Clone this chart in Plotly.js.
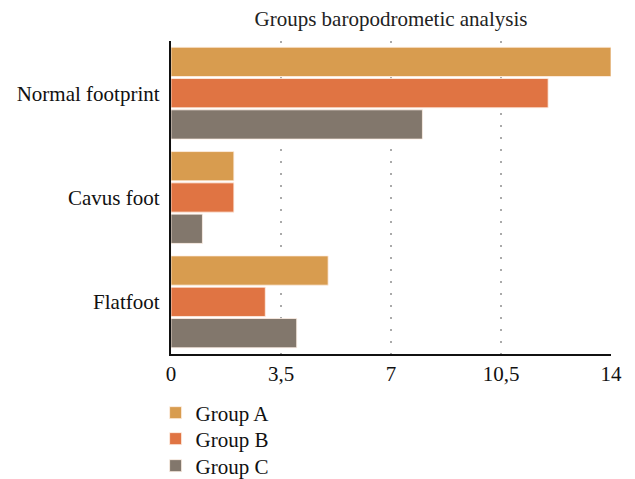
<!DOCTYPE html>
<html>
<head>
<meta charset="utf-8">
<script src="https://cdn.plot.ly/plotly-3.0.1.min.js"></script>
<style>html,body{margin:0;padding:0;background:#fff;}#chart{width:635px;height:479px;}</style>
</head>
<body>
<div id="chart"></div>
<script>
const categories = ["Normal footprint", "Cavus foot", "Flatfoot"];
const groupA = [14, 2, 5];
const groupB = [12, 2, 3];
const groupC = [8, 1, 4];
const seriesNames = ["Group A", "Group B", "Group C"];
const colors = ["#D89C4F", "#E07443", "#82776C"];
const tickVals = [0, 3.5, 7, 10.5, 14];
const tickText = ["0", "3,5", "7", "10,5", "14"];

const legendIds = ["legend", "legend2", "legend3"];
const legendCenters = [413, 439, 466];

const data = [groupA, groupB, groupC].map((vals, i) => ({
  type: "bar",
  orientation: "h",
  name: seriesNames[i],
  y: categories,
  x: vals,
  legend: legendIds[i],
  marker: {color: colors[i], line: {color: "rgba(255,240,230,0.8)", width: 1}},
  hoverinfo: "x+name"
}));

const layout = {
  width: 635, height: 479,
  margin: {l: 171, r: 24, t: 41, b: 125, autoexpand: false},
  paper_bgcolor: "#fff", plot_bgcolor: "#fff",
  font: {family: "Liberation Serif, serif", size: 21, color: "#111"},
  title: {text: "Groups baropodrometic analysis", font: {size: 21, color: "#222"}, x: 0.5, xanchor: "center", y: 0.962, yanchor: "middle", xref: "paper"},
  barmode: "group",
  bargap: 0.1,
  bargroupgap: 0.065,
  xaxis: {
    range: [0, 14], tickvals: tickVals, ticktext: tickText,
    showgrid: true, gridcolor: "#aaa", griddash: "2px,10px", gridwidth: 2,
    showline: true, linecolor: "#111", linewidth: 2,
    zeroline: false, ticks: "", ticklen: 0,
    tickfont: {size: 21, color: "#111"}, fixedrange: true
  },
  yaxis: {
    autorange: "reversed", showline: true, linecolor: "#111", linewidth: 2,
    ticks: "", showgrid: false, zeroline: false,
    tickfont: {size: 21, color: "#111"}, ticksuffix: " "
  },
  showlegend: true
};

legendIds.forEach((id, i) => {
  layout[id] = {orientation: "v", x: -0.035, xanchor: "left", yref: "container",
    y: 1 - legendCenters[i] / 479, yanchor: "middle",
    font: {size: 21, color: "#111"}, itemwidth: 30, bgcolor: "rgba(0,0,0,0)"};
});

Plotly.newPlot("chart", data, layout, {displayModeBar: false, staticPlot: true});
</script>
</body>
</html>
